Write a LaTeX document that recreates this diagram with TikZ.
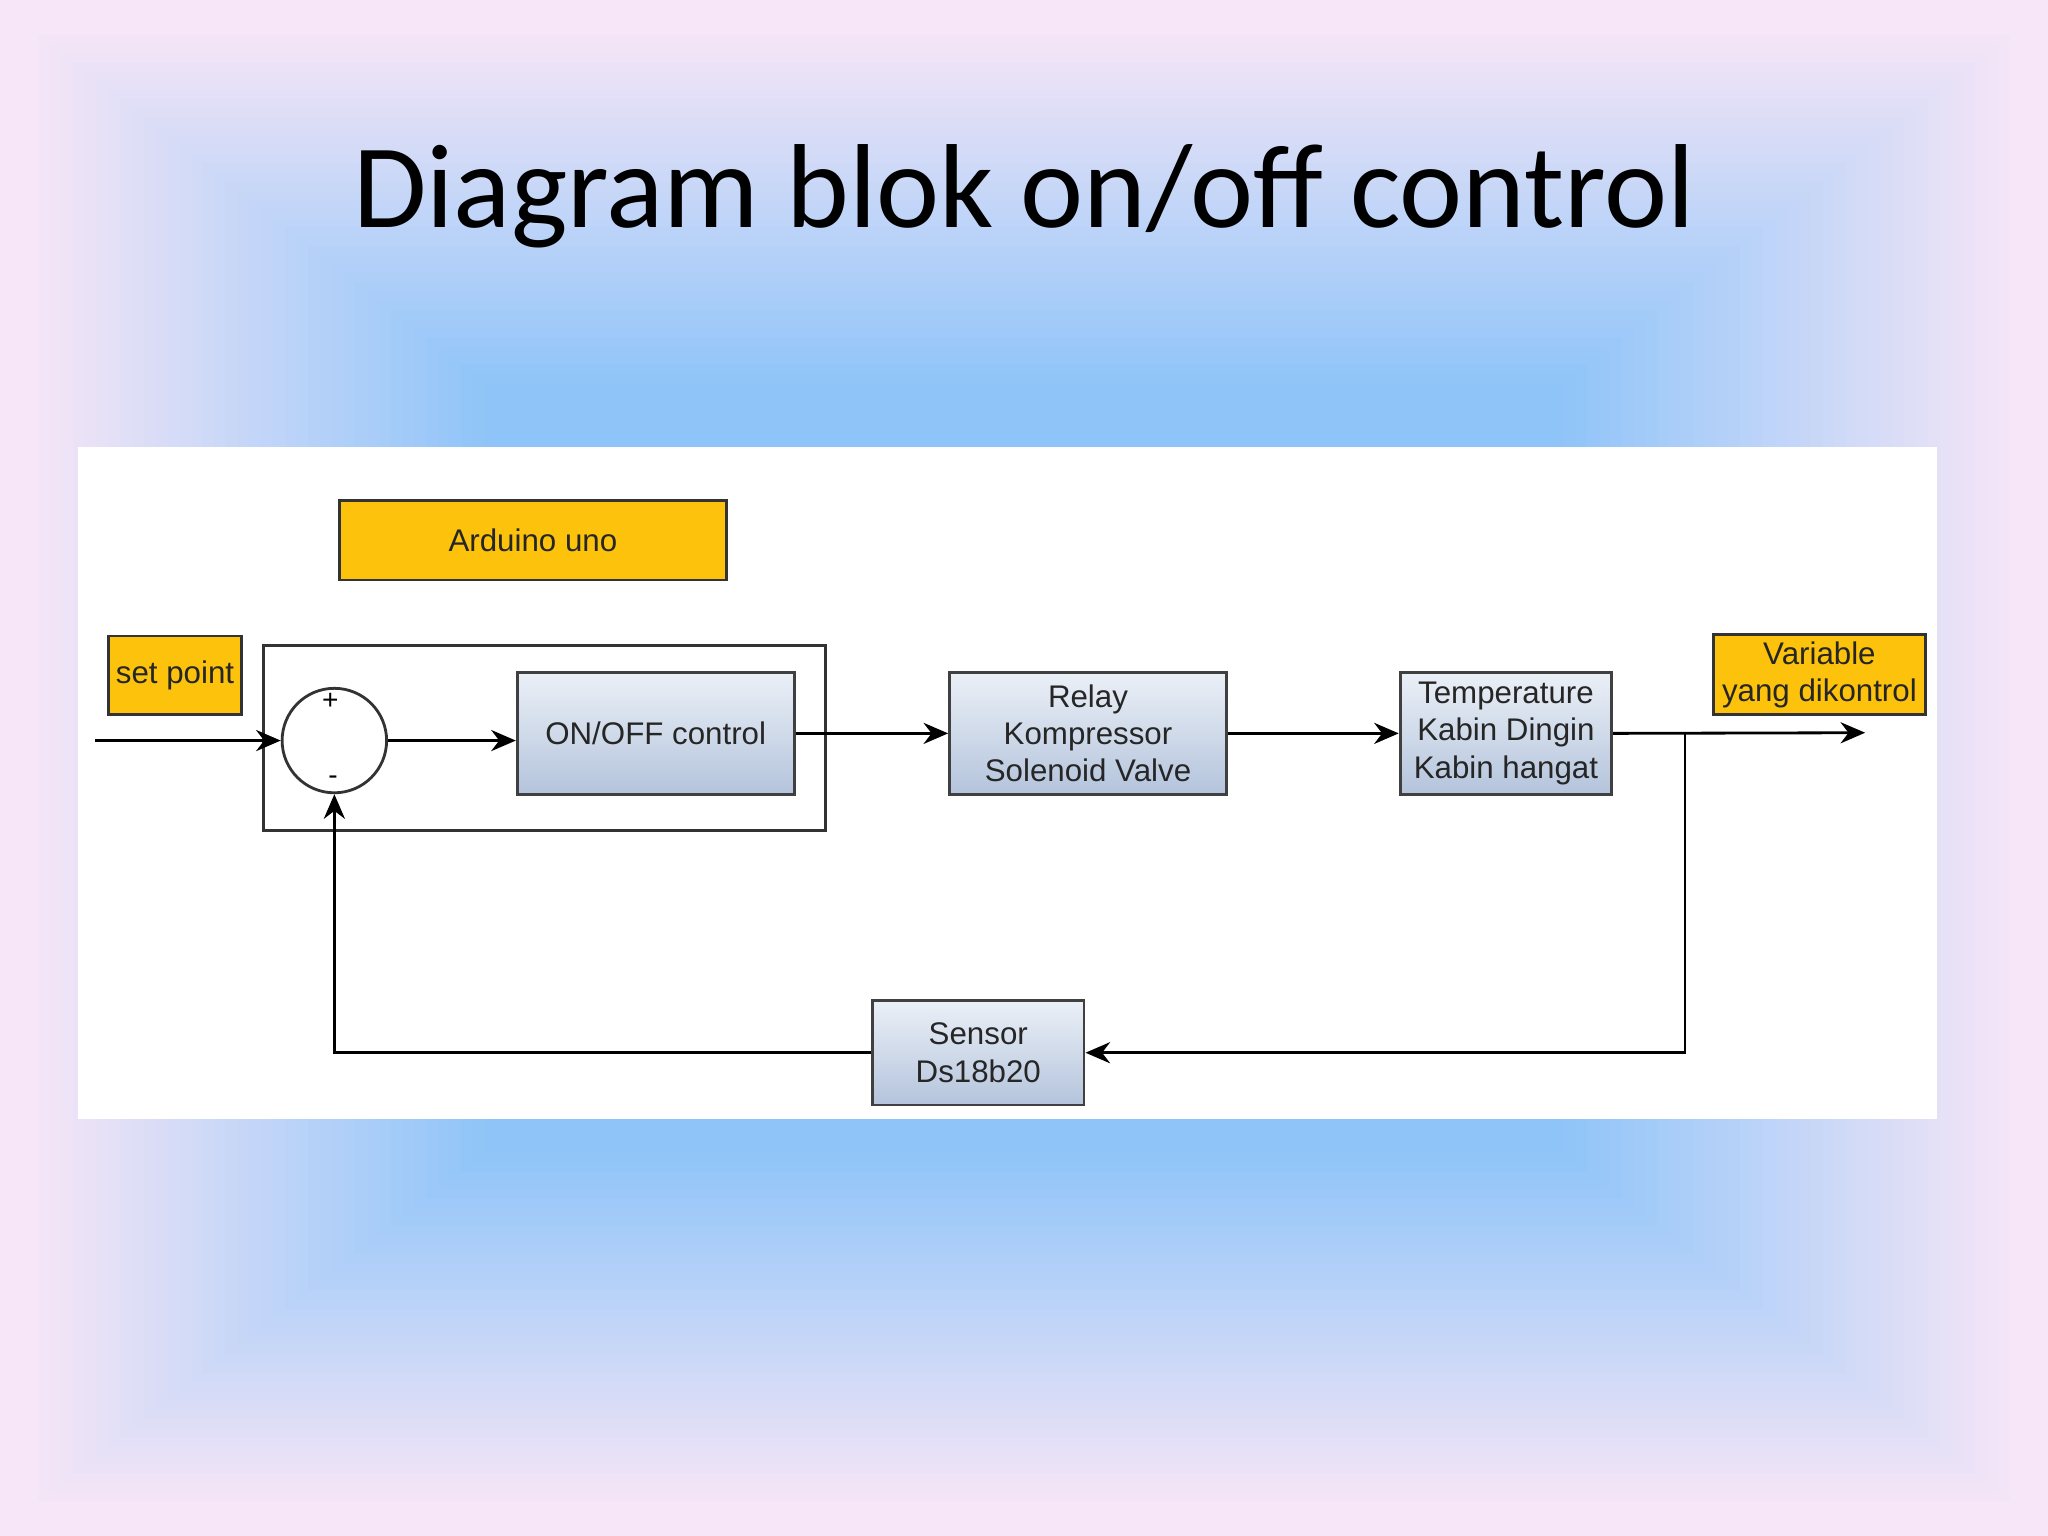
\documentclass[tikz,border=0pt]{standalone}
\usepackage{fontspec}
\setmainfont{Liberation Sans}
\newfontfamily\titlefont{Carlito}
\usetikzlibrary{arrows.meta}
\definecolor{pinkbg}{HTML}{F6E6F7}
\definecolor{bluebg}{HTML}{8EC4F8}
\definecolor{orng}{HTML}{FCC20C}
\definecolor{gtop}{HTML}{EBF0F7}
\definecolor{gbot}{HTML}{B4C4DC}
\tikzset{
  x=0.013061cm, y=-0.013061cm,
  ybox/.style={draw=black!80, line width=0.8pt, fill=orng},
  gbox/.style={draw=black!75, line width=0.8pt, top color=gtop, bottom color=gbot},
  txt/.style={font=\fontsize{8.9}{10.6}\selectfont, align=center, text=black!85},
  con/.style={line width=0.8pt, -{Stealth[length=7pt,width=6pt]}},
  ln/.style={line width=0.8pt}
}
\begin{document}
\begin{tikzpicture}
\useasboundingbox (0,0) rectangle (1568,1176);
% background
\fill[pinkbg] (0,0) rectangle (1568,1176);
\foreach \i in {0,...,39}{
  \pgfmathsetmacro{\m}{\i*100/39}
  \fill[bluebg!\m!pinkbg] (20+\i*9,20+\i*7) rectangle (1548-\i*9,1156-\i*7);
}
\node[font=\titlefont\fontsize{34}{38}\selectfont] (title) at (784,150) {Diagram blok on/off control};
% panel
\fill[white] (60,342) rectangle (1483,857);
% boxes
\node[ybox, minimum width=296*0.013061cm, minimum height=61*0.013061cm, txt] (ard) at (408,413.5) {Arduino uno};
\node[ybox, minimum width=102*0.013061cm, minimum height=60*0.013061cm, txt, inner sep=0pt] (sp) at (134,517) {set point};
\draw[ln, black!80] (202,494) rectangle (632,636);
\node[draw=black!80, line width=0.8pt, circle, minimum size=80*0.013061cm, inner sep=0pt] (sum) at (256,567) {};
\node[font=\fontsize{8}{8}\selectfont] (plus) at (253,537) {+};
\node[font=\fontsize{8}{8}\selectfont] (minus) at (255,597) {-};
\node[gbox, minimum width=212*0.013061cm, minimum height=93*0.013061cm, txt] (onoff) at (502,561.5) {ON/OFF control};
\node[gbox, minimum width=212*0.013061cm, minimum height=93*0.013061cm, txt] (relay) at (833,561.5) {Relay\\Kompressor\\Solenoid Valve};
\node[gbox, minimum width=162*0.013061cm, minimum height=93*0.013061cm, txt, inner sep=0pt] (temp) at (1153,561.5) {Temperature\\Kabin Dingin\\Kabin hangat};
\node[ybox, minimum width=162*0.013061cm, minimum height=61*0.013061cm, txt, inner sep=0pt] (var) at (1393,516.5) {Variable\\yang dikontrol};
\node[gbox, minimum width=162*0.013061cm, minimum height=80*0.013061cm, txt] (sens) at (749,806) {Sensor\\Ds18b20};
% connectors
\coordinate (in) at (73,567);
\coordinate (out) at (1428,561);
\coordinate (br) at (1290,561);
\draw[con] (in) -- (sum.west);
\draw[con] (sum.east) -- (onoff.west |- sum.east);
\draw[con] (onoff.east) -- (relay.west);
\draw[con] (relay.east) -- (temp.west);
\draw[con] (temp.east) -- (out);
\draw[con] (br) |- (sens.east);
\draw[con] (sens.west) -| (sum.south);
\end{tikzpicture}
\end{document}
